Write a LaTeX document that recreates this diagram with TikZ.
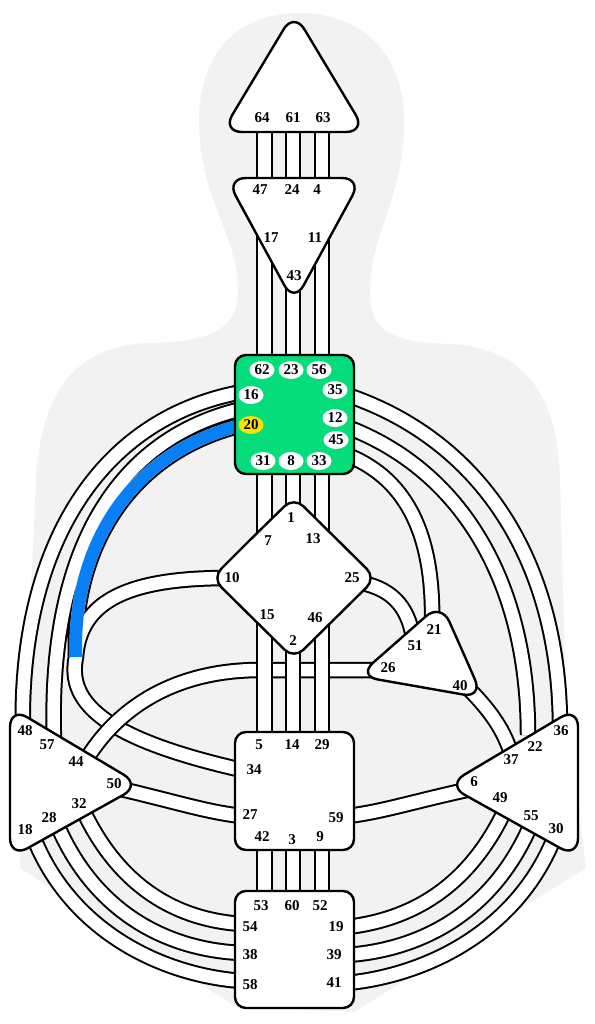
\documentclass[tikz,border=0pt]{standalone}
\usepackage{fontspec}
\setmainfont{Liberation Serif}
\usepackage{tikz}
\usetikzlibrary{shapes.geometric}
\definecolor{bodygrey}{RGB}{242,242,242}
\definecolor{throatgreen}{RGB}{4,221,122}
\definecolor{gateblue}{RGB}{8,127,245}
\definecolor{gateyellow}{RGB}{250,228,0}

\begin{document}
\begin{tikzpicture}[
    x=1pt, y=-1pt,
    chan/.style={draw=black, line width=2pt, double=white, double distance=12.5pt},
    centre/.style={draw=black, line width=2.4pt, fill=white, rounded corners=11pt},
    tri/.style={centre, rounded corners=20pt},
    gate/.style={font=\fontsize{15}{15}\selectfont\bfseries, inner sep=0pt},
    bubble/.style={gate, ellipse, fill=white, minimum width=25pt, minimum height=18pt},
]
\useasboundingbox (0,0) rectangle (594,1024);

% Body silhouette
\fill[bodygrey] (299,13) .. controls (362,13) and (404,55) .. (404,120)
  .. controls (404,200) and (370,232) .. (370,292)
  .. controls (370,332) and (392,342) .. (450,344)
  .. controls (532,348) and (558,405) .. (560,480)
  -- (566,700) -- (586,868) -- (354,1012) -- (235,1006) -- (20,868) -- (26,700) -- (36,480)
  .. controls (40,400) and (70,345) .. (150,343)
  .. controls (205,342) and (238,332) .. (238,292)
  .. controls (238,232) and (199,200) .. (199,120)
  .. controls (199,55) and (236,13) .. (299,13) -- cycle;

% Channel ends
\coordinate (p64) at (264.5,125); \coordinate (p61) at (293,125); \coordinate (p63) at (322,125);
\coordinate (p47) at (264.5,185); \coordinate (p24) at (293,185); \coordinate (p4) at (322,185);
\coordinate (p17) at (264.5,235); \coordinate (p43) at (293,275); \coordinate (p11) at (322,235);
\coordinate (p62) at (264.5,365); \coordinate (p23) at (293,365); \coordinate (p56) at (322,365);
\coordinate (p31) at (264.5,465); \coordinate (p8) at (293,465); \coordinate (p33) at (322,465);
\coordinate (p7) at (264.5,560); \coordinate (p1) at (293,515); \coordinate (p13) at (322,560);
\coordinate (p15) at (264.5,610); \coordinate (p2) at (293,640); \coordinate (p46) at (322,610);
\coordinate (p5) at (264.5,745); \coordinate (p14) at (293,745); \coordinate (p29) at (322,745);
\coordinate (p42) at (264.5,840); \coordinate (p3) at (293,840); \coordinate (p9) at (322,840);
\coordinate (p53) at (264.5,900); \coordinate (p60) at (293,900); \coordinate (p52) at (322,900);
\coordinate (p16) at (242,392); \coordinate (p48) at (23,735);
\coordinate (p20b) at (242,409); \coordinate (p57) at (54,740);
\coordinate (p20) at (242,425); \coordinate (pj) at (76,657);
\coordinate (p10) at (228,578); \coordinate (p34) at (242,770);
\coordinate (p44) at (86,760); \coordinate (p26) at (398,670);
\coordinate (p50) at (112,787); \coordinate (p27) at (242,816);
\coordinate (p32) at (82,808); \coordinate (p54) at (242,924);
\coordinate (p28) at (56,822); \coordinate (p38) at (242,953);
\coordinate (p18) at (33,836); \coordinate (p58) at (242,981);
\coordinate (p35) at (347,395); \coordinate (p36) at (560,728);
\coordinate (p12) at (347,427); \coordinate (p22) at (528,735);
\coordinate (p45) at (347,455); \coordinate (p21) at (432,625);
\coordinate (p25) at (362,583); \coordinate (p51) at (414,644);
\coordinate (p40) at (464,684); \coordinate (p37) at (513,760);
\coordinate (p6) at (476,788); \coordinate (p59) at (347,816);
\coordinate (p49) at (506,808); \coordinate (p19) at (347,927);
\coordinate (p55) at (532,822); \coordinate (p39) at (347,955);
\coordinate (p30) at (555,836); \coordinate (p41) at (347,983);

% Left arcs (integration)
\draw[chan] (p20b) .. controls (110,440) and (48,560) .. (p57)
  (p20) .. controls (120,455) and (72,560) .. (pj) .. controls (66,705) and (110,740) .. (p34)
  (p10) .. controls (130,578) and (80,600) .. (pj);
\draw[gateblue, line width=12.5pt] (p20) .. controls (120,455) and (72,560) .. (pj);
\draw[chan] (p16) .. controls (90,420) and (18,560) .. (p48);
\draw[chan] (p44) .. controls (115,712) and (170,670) .. (260,670) -- (p26);

% Spleen - Sacral / Root
\draw[chan] (p50) .. controls (170,800) and (205,812) .. (p27);
\draw[chan] (p32) .. controls (120,890) and (180,920) .. (p54);
\draw[chan] (p28) .. controls (95,915) and (170,950) .. (p38);
\draw[chan] (p18) .. controls (70,930) and (160,975) .. (p58);

% Throat - Solar / Ego
\draw[chan] (p35) .. controls (480,440) and (560,560) .. (p36);
\draw[chan] (p12) .. controls (460,470) and (528,580) .. (p22);
\draw[chan] (p45) .. controls (410,480) and (434,540) .. (p21);
\draw[chan] (p25) .. controls (395,590) and (410,610) .. (p51);
\draw[chan] (p40) .. controls (490,710) and (505,730) .. (p37);

% Solar - Sacral / Root
\draw[chan] (p6) .. controls (418,800) and (383,812) .. (p59);
\draw[chan] (p49) .. controls (468,890) and (408,920) .. (p19);
\draw[chan] (p55) .. controls (493,915) and (418,950) .. (p39);
\draw[chan] (p30) .. controls (518,930) and (428,975) .. (p41);

% Vertical channels
\draw[chan] (p64) -- (p47); \draw[chan] (p61) -- (p24); \draw[chan] (p63) -- (p4);
\draw[chan] (p17) -- (p62); \draw[chan] (p43) -- (p23); \draw[chan] (p11) -- (p56);
\draw[chan] (p31) -- (p7); \draw[chan] (p8) -- (p1); \draw[chan] (p33) -- (p13);
\draw[chan] (p15) -- (p5); \draw[chan] (p2) -- (p14); \draw[chan] (p46) -- (p29);
\draw[chan] (p42) -- (p53); \draw[chan] (p3) -- (p60); \draw[chan] (p9) -- (p52);

% Centres
\draw[tri] (294,132) -- (222,132) -- (294,12) -- (366,132) -- cycle;
\draw[tri] (294,178) -- (362,178) -- (294,303) -- (226,178) -- cycle;
\draw[centre, fill=throatgreen] (235,355) rectangle (354,474);
\draw[centre, rounded corners=13pt] (253,537) -- (294,497) -- (376,578) -- (294,659) -- (212,578) -- cycle;
\draw[tri] (462,650) -- (483,698) -- (358,676) -- (441,603) -- cycle;
\draw[tri] (10,780) -- (10,707) -- (141,785) -- (10,858) -- cycle;
\draw[tri] (578,780) -- (578,858) -- (447,785) -- (578,707) -- cycle;
\draw[centre] (235,732) rectangle (354,850);
\draw[centre] (235,891) rectangle (354,1008);

% Head
\node[gate] (g64) at (262,118) {64};
\node[gate] (g61) at (293,118) {61};
\node[gate] (g63) at (323,118) {63};
% Ajna
\node[gate] (g47) at (260,190) {47};
\node[gate] (g24) at (292,190) {24};
\node[gate] (g4) at (317,190) {4};
\node[gate] (g17) at (271,238) {17};
\node[gate] (g11) at (315,238) {11};
\node[gate] (g43) at (294,276) {43};
% Throat
\node[bubble] (g62) at (262,370) {62};
\node[bubble] (g23) at (291,370) {23};
\node[bubble] (g56) at (319,370) {56};
\node[bubble] (g16) at (251,395) {16};
\node[bubble] (g35) at (335,390) {35};
\node[bubble, fill=gateyellow] (g20) at (251,425) {20};
\node[bubble] (g12) at (335,418) {12};
\node[bubble] (g45) at (336,440) {45};
\node[bubble] (g31) at (263,461) {31};
\node[bubble] (g8) at (291,461) {8};
\node[bubble] (g33) at (319,461) {33};
% G
\node[gate] (g1) at (291,518) {1};
\node[gate] (g7) at (268,541) {7};
\node[gate] (g13) at (313,539) {13};
\node[gate] (g10) at (232,578) {10};
\node[gate] (g25) at (352,578) {25};
\node[gate] (g15) at (267,615) {15};
\node[gate] (g46) at (315,618) {46};
\node[gate] (g2) at (293,641) {2};
% Ego
\node[gate] (g21) at (434,630) {21};
\node[gate] (g51) at (415,646) {51};
\node[gate] (g26) at (388,668) {26};
\node[gate] (g40) at (460,686) {40};
% Spleen
\node[gate] (g48) at (25,731) {48};
\node[gate] (g57) at (47,745) {57};
\node[gate] (g44) at (76,762) {44};
\node[gate] (g50) at (114,784) {50};
\node[gate] (g32) at (79,804) {32};
\node[gate] (g28) at (49,818) {28};
\node[gate] (g18) at (25,830) {18};
% Solar plexus
\node[gate] (g36) at (561,731) {36};
\node[gate] (g22) at (535,747) {22};
\node[gate] (g37) at (511,760) {37};
\node[gate] (g6) at (474,782) {6};
\node[gate] (g49) at (500,798) {49};
\node[gate] (g55) at (531,816) {55};
\node[gate] (g30) at (556,829) {30};
% Sacral
\node[gate] (g5) at (259,745) {5};
\node[gate] (g14) at (292,745) {14};
\node[gate] (g29) at (322,745) {29};
\node[gate] (g34) at (254,770) {34};
\node[gate] (g27) at (250,815) {27};
\node[gate] (g59) at (336,818) {59};
\node[gate] (g42) at (262,837) {42};
\node[gate] (g3) at (292,840) {3};
\node[gate] (g9) at (320,837) {9};
% Root
\node[gate] (g53) at (261,906) {53};
\node[gate] (g60) at (292,906) {60};
\node[gate] (g52) at (320,906) {52};
\node[gate] (g54) at (250,927) {54};
\node[gate] (g19) at (336,927) {19};
\node[gate] (g38) at (250,955) {38};
\node[gate] (g39) at (334,955) {39};
\node[gate] (g58) at (250,985) {58};
\node[gate] (g41) at (334,983) {41};

\end{tikzpicture}
\end{document}
